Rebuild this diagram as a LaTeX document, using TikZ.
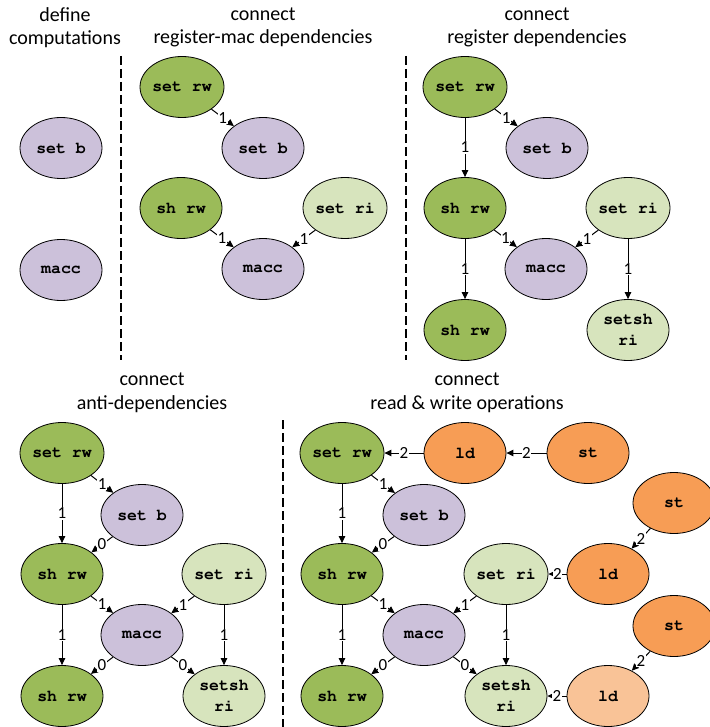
\documentclass[tikz,border=0pt]{standalone}
\usepackage[T1]{fontenc}
\usepackage{fontspec}
\setmainfont{Carlito}
\usetikzlibrary{shapes.geometric,arrows.meta}

% bold Courier for the operation names
\newcommand{\opfont}{\fontencoding{T1}\fontfamily{pcr}\fontseries{b}\fontsize{16.5}{21}\selectfont}

\definecolor{regdark}{HTML}{9BBB59}
\definecolor{reglight}{HTML}{D7E4BD}
\definecolor{comp}{HTML}{CCC1DA}
\definecolor{memdark}{HTML}{F79D55}
\definecolor{memlight}{HTML}{F9C397}

\tikzset{
  op/.style={ellipse, draw=black, line width=0.8pt, minimum width=82pt,
    minimum height=61pt, inner sep=0pt, align=center, font=\opfont},
  rw/.style={op, fill=regdark},
  ri/.style={op, fill=reglight},
  cp/.style={op, fill=comp},
  mem/.style={op, fill=memdark},
  meml/.style={op, fill=memlight},
  dep/.style={draw=black, line width=1pt, -{Triangle[length=7pt,width=6.5pt]}},
  lbl/.style={midway, fill=white, inner sep=0.6pt,
    font=\fontsize{17}{17}\selectfont},
  title/.style={align=center, font=\fontsize{20}{23.5}\selectfont},
  sep/.style={line width=1.2pt, dash pattern=on 9pt off 4pt},
}

\begin{document}
\begin{tikzpicture}[x=1pt,y=-1pt]
\useasboundingbox (0,0) rectangle (709,727);

% ---- titles ----
\node[title] (t1) at (65,27.5) {define\\computations};
\node[title] (t2) at (263,27.5) {connect\\register-mac dependencies};
\node[title] (t3) at (537,27.5) {connect\\register dependencies};
\node[title] (t4) at (152,393) {connect\\anti-dependencies};
\node[title] (t5) at (467,393) {connect\\read \& write operations};

% ---- separators ----
\coordinate (s1a) at (121,56);  \coordinate (s1b) at (121,360);
\coordinate (s2a) at (406,56);  \coordinate (s2b) at (406,360);
\coordinate (s3a) at (283,420); \coordinate (s3b) at (283,727);
\draw[sep] (s1a) -- (s1b);
\draw[sep] (s2a) -- (s2b);
\draw[sep] (s3a) -- (s3b);

% ---- panel 1: computations ----
\node[cp] (a_setb) at (61,148) {set b};
\node[cp] (a_macc) at (61,270) {macc};

% ---- panel 2: register-mac dependencies ----
\node[rw] (b_setrw) at (182,87) {set rw};
\node[cp] (b_setb) at (263,148) {set b};
\node[rw] (b_shrw) at (181,208) {sh rw};
\node[ri] (b_setri) at (345,208) {set ri};
\node[cp] (b_macc) at (263,269) {macc};
\draw[dep] (b_setrw) -- node[lbl]{1} (b_setb);
\draw[dep] (b_shrw) -- node[lbl]{1} (b_macc);
\draw[dep] (b_setri) -- node[lbl]{1} (b_macc);

% ---- panel 3: register dependencies ----
\node[rw] (c_setrw) at (465,87) {set rw};
\node[cp] (c_setb) at (547,148) {set b};
\node[rw] (c_shrw) at (465,208) {sh rw};
\node[ri] (c_setri) at (628,208) {set ri};
\node[cp] (c_macc) at (546,269) {macc};
\node[rw] (c_shrw2) at (465,330) {sh rw};
\node[ri] (c_setsh) at (628,330) {setsh\\ri};
\draw[dep] (c_setrw) -- node[lbl]{1} (c_setb);
\draw[dep] (c_setrw) -- node[lbl]{1} (c_shrw);
\draw[dep] (c_shrw) -- node[lbl]{1} (c_macc);
\draw[dep] (c_setri) -- node[lbl]{1} (c_macc);
\draw[dep] (c_shrw) -- node[lbl]{1} (c_shrw2);
\draw[dep] (c_setri) -- node[lbl]{1} (c_setsh);

% ---- panel 4: anti-dependencies ----
\node[rw] (d_setrw) at (62,453) {set rw};
\node[cp] (d_setb) at (142,515) {set b};
\node[rw] (d_shrw) at (62,574) {sh rw};
\node[ri] (d_setri) at (224,574) {set ri};
\node[cp] (d_macc) at (142,635) {macc};
\node[rw] (d_shrw2) at (62,696) {sh rw};
\node[ri] (d_setsh) at (224,696) {setsh\\ri};
\draw[dep] (d_setrw) -- node[lbl]{1} (d_setb);
\draw[dep] (d_setrw) -- node[lbl]{1} (d_shrw);
\draw[dep] (d_setb) -- node[lbl]{0} (d_shrw);
\draw[dep] (d_shrw) -- node[lbl]{1} (d_macc);
\draw[dep] (d_setri) -- node[lbl]{1} (d_macc);
\draw[dep] (d_shrw) -- node[lbl]{1} (d_shrw2);
\draw[dep] (d_setri) -- node[lbl]{1} (d_setsh);
\draw[dep] (d_macc) -- node[lbl]{0} (d_shrw2);
\draw[dep] (d_macc) -- node[lbl]{0} (d_setsh);

% ---- panel 5: read & write operations ----
\node[rw] (e_setrw) at (342,453) {set rw};
\node[mem] (e_ld1) at (465,453) {ld};
\node[mem] (e_st1) at (588,453) {st};
\node[cp] (e_setb) at (424,515) {set b};
\node[mem] (e_st2) at (674,503) {st};
\node[rw] (e_shrw) at (342,574) {sh rw};
\node[ri] (e_setri) at (506,574) {set ri};
\node[mem] (e_ld2) at (608,574) {ld};
\node[cp] (e_macc) at (424,635) {macc};
\node[mem] (e_st3) at (674,626) {st};
\node[rw] (e_shrw2) at (342,696) {sh rw};
\node[ri] (e_setsh) at (506,696) {setsh\\ri};
\node[meml] (e_ld3) at (608,696) {ld};
\draw[dep] (e_setrw) -- node[lbl]{1} (e_setb);
\draw[dep] (e_setrw) -- node[lbl]{1} (e_shrw);
\draw[dep] (e_setb) -- node[lbl]{0} (e_shrw);
\draw[dep] (e_shrw) -- node[lbl]{1} (e_macc);
\draw[dep] (e_setri) -- node[lbl]{1} (e_macc);
\draw[dep] (e_shrw) -- node[lbl]{1} (e_shrw2);
\draw[dep] (e_setri) -- node[lbl]{1} (e_setsh);
\draw[dep] (e_macc) -- node[lbl]{0} (e_shrw2);
\draw[dep] (e_macc) -- node[lbl]{0} (e_setsh);
\draw[dep] (e_ld1) -- node[lbl]{2} (e_setrw);
\draw[dep] (e_st1) -- node[lbl]{2} (e_ld1);
\draw[dep] (e_st2) -- node[lbl]{2} (e_ld2);
\draw[dep] (e_ld2) -- node[lbl]{2} (e_setri);
\draw[dep] (e_st3) -- node[lbl]{2} (e_ld3);
\draw[dep] (e_ld3) -- node[lbl]{2} (e_setsh);
\end{tikzpicture}
\end{document}
